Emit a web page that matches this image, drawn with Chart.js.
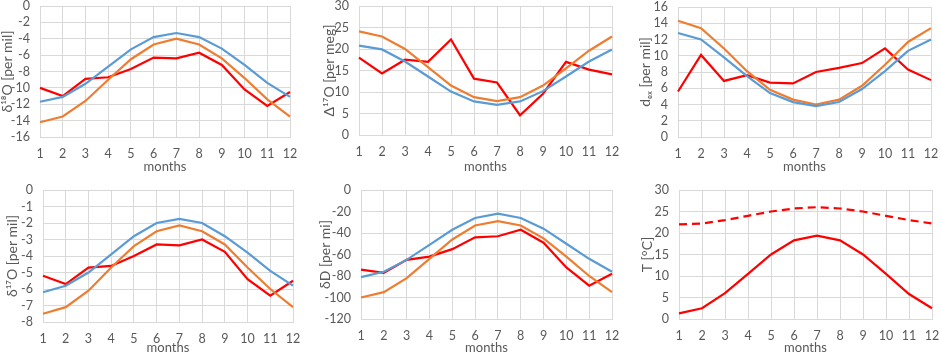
<!DOCTYPE html>
<html lang="en">
<head>
  <meta charset="UTF-8" />
  <title>Monthly isotope panels</title>
  <script src="https://cdn.jsdelivr.net/npm/chart.js"></script>
  <style>
    body { margin: 0; background: #fff; }
    .page { position: relative; width: 941px; height: 356px; overflow: hidden; }
    .page canvas { position: absolute; }
  </style>
</head>
<body>
  <div class="page" id="page"></div>
  <script>
    const months = ["1", "2", "3", "4", "5", "6", "7", "8", "9", "10", "11", "12"];

    // δ18O
    const d18oA = [-11.7, -11.1, -9.5, -7.4, -5.3, -3.8, -3.3, -3.8, -5.2, -7.2, -9.4, -11.1];
    const d18oB = [-14.2, -13.5, -11.6, -9.0, -6.5, -4.7, -4.0, -4.7, -6.4, -8.8, -11.4, -13.5];
    const d18oObs = [-10.0, -11.0, -8.9, -8.7, -7.7, -6.3, -6.4, -5.7, -7.2, -10.2, -12.2, -10.5];

    // Δ17O
    const cap17oA = [20.8, 19.9, 17.1, 13.6, 10.1, 7.8, 7.0, 7.8, 10.2, 13.6, 17.1, 19.9];
    const cap17oB = [24.1, 22.9, 20.0, 15.8, 11.5, 8.8, 7.9, 8.8, 11.5, 15.5, 19.6, 22.9];
    const cap17oObs = [18.0, 14.3, 17.5, 17.0, 22.2, 13.1, 12.2, 4.6, 9.6, 17.0, 15.2, 14.1];

    // d-excess
    const dexA = [12.8, 12.0, 9.8, 7.5, 5.4, 4.3, 3.8, 4.3, 5.9, 8.1, 10.6, 12.0];
    const dexB = [14.3, 13.4, 10.9, 8.1, 5.8, 4.6, 4.0, 4.6, 6.3, 8.9, 11.7, 13.4];
    const dexObs = [5.6, 10.1, 6.9, 7.6, 6.7, 6.6, 8.0, 8.5, 9.1, 10.9, 8.3, 7.0];

    // δ17O
    const d17oA = [-6.2, -5.8, -5.0, -3.9, -2.8, -2.0, -1.75, -2.0, -2.8, -3.8, -4.9, -5.8];
    const d17oB = [-7.5, -7.1, -6.1, -4.7, -3.4, -2.5, -2.15, -2.5, -3.3, -4.7, -6.0, -7.1];
    const d17oObs = [-5.2, -5.7, -4.7, -4.6, -4.0, -3.3, -3.35, -3.0, -3.75, -5.4, -6.4, -5.5];

    // δD
    const dDA = [-81, -76, -65, -51, -37, -26, -22, -26, -36, -50, -64, -76];
    const dDB = [-100, -95, -82, -64, -46, -33, -29, -33, -45, -62, -80, -95];
    const dDObs = [-74, -77, -65, -62, -55, -44, -43, -37, -49, -72, -89, -78];

    // temperature
    const tempUpper = [22.0, 22.2, 23.0, 24.0, 25.0, 25.7, 26.0, 25.7, 25.0, 24.0, 23.0, 22.2];
    const tempLower = [1.3, 2.5, 6.0, 10.5, 15.0, 18.3, 19.4, 18.3, 15.0, 10.5, 5.8, 2.5];

    const BLUE = "#5b9bd5", ORANGE = "#ed7d31", RED = "#ff0000";
    const GRID = "#d9d9d9", TEXT = "#595959";
    const FONT = "Lato, 'Open Sans', sans-serif";

    const line = (data, color, dash) => ({
      data, borderColor: color, borderWidth: 2.2, pointRadius: 0,
      tension: 0, fill: false, borderDash: dash || []
    });

    // box = canvas rect on page, plot = wanted chart area (page coords)
    function makePanel(p) {
      const c = document.createElement("canvas");
      c.width = p.box.w; c.height = p.box.h;
      c.style.left = p.box.x + "px"; c.style.top = p.box.y + "px";
      document.getElementById("page").appendChild(c);

      const yWidth = p.plot.l - p.box.x;
      const xHeight = p.box.y + p.box.h - p.plot.b;

      new Chart(c, {
        type: "line",
        data: { labels: months, datasets: p.datasets },
        options: {
          responsive: false,
          animation: false,
          layout: { padding: { top: p.plot.t - p.box.y, right: p.box.x + p.box.w - p.plot.r, left: 0, bottom: 0 } },
          plugins: { legend: { display: false }, tooltip: { enabled: false } },
          scales: {
            x: {
              grid: { color: GRID, drawTicks: false },
              border: { color: GRID },
              ticks: { color: TEXT, font: { family: FONT, size: 12.5 }, padding: 9, maxRotation: 0, autoSkip: false },
              title: { display: true, text: "months", color: TEXT, font: { family: FONT, size: 13 }, padding: { top: 0, bottom: p.xTitlePad } },
              afterFit: s => { s.height = xHeight; s.paddingLeft = 0; s.paddingRight = 0; }
            },
            y: {
              min: p.min, max: p.max,
              grid: { color: GRID, drawTicks: false },
              border: { color: GRID },
              ticks: { color: TEXT, font: { family: FONT, size: 12.5 }, padding: 10, stepSize: p.step, autoSkip: false },
              title: { display: true, text: p.title, color: TEXT, font: { family: FONT, size: 14 }, padding: 0 },
              afterFit: s => { s.width = yWidth; s.paddingTop = 0; s.paddingBottom = 0; }
            }
          }
        }
      });
    }

    makePanel({
      box: { x: -1, y: 0, w: 306, h: 178 }, plot: { l: 40, r: 290, t: 6, b: 137 }, xTitlePad: 3,
      min: -16, max: 0, step: 2, title: "δ¹⁸O [per mil]",
      datasets: [line(d18oA, BLUE), line(d18oB, ORANGE), line(d18oObs, RED)]
    });
    makePanel({
      box: { x: 321, y: 0, w: 306, h: 178 }, plot: { l: 359, r: 612, t: 6, b: 135 }, xTitlePad: 3,
      min: 0, max: 30, step: 5, title: "Δ¹⁷O [per meg]",
      datasets: [line(cap17oA, BLUE), line(cap17oB, ORANGE), line(cap17oObs, RED)]
    });
    makePanel({
      box: { x: 637, y: 0, w: 304, h: 178 }, plot: { l: 678, r: 931, t: 7, b: 137 }, xTitlePad: 3,
      min: 0, max: 16, step: 2, title: "dₑₓ [per mil]",
      datasets: [line(dexA, BLUE), line(dexB, ORANGE), line(dexObs, RED)]
    });
    makePanel({
      box: { x: 4, y: 176, w: 301, h: 180 }, plot: { l: 43, r: 293, t: 190, b: 322 }, xTitlePad: 0,
      min: -8, max: 0, step: 1, title: "δ¹⁷O [per mil]",
      datasets: [line(d17oA, BLUE), line(d17oB, ORANGE), line(d17oObs, RED)]
    });
    makePanel({
      box: { x: 317, y: 176, w: 306, h: 180 }, plot: { l: 361, r: 612, t: 190, b: 319 }, xTitlePad: 0,
      min: -120, max: 0, step: 20, title: "δD [per mi]",
      datasets: [line(dDA, BLUE), line(dDB, ORANGE), line(dDObs, RED)]
    });
    makePanel({
      box: { x: 639, y: 176, w: 302, h: 180 }, plot: { l: 679, r: 932, t: 190, b: 319 }, xTitlePad: 0,
      min: 0, max: 30, step: 5, title: "T [°C]",
      datasets: [line(tempUpper, RED, [8, 5]), line(tempLower, RED)]
    });
  </script>
</body>
</html>
